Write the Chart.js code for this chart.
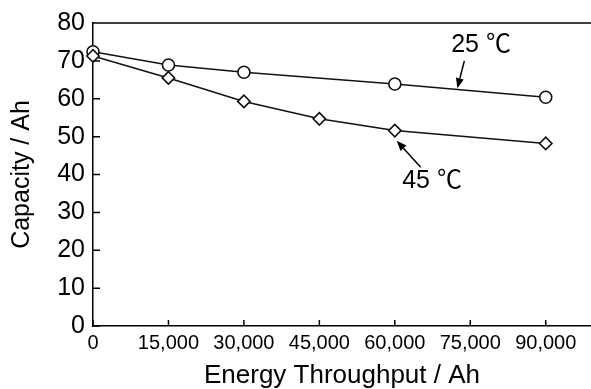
<!DOCTYPE html>
<html>
<head>
<meta charset="utf-8">
<script src="https://cdn.jsdelivr.net/npm/chart.js@4"></script>
<style>
  html, body { margin: 0; padding: 0; background: #fff; }
  #wrap { width: 591px; height: 389px; }
</style>
</head>
<body>
<div id="wrap"><canvas id="capacity_chart"></canvas></div>
<script>
// data
const throughput_25 = [0, 15000, 30000, 60000, 90000];
const capacity_25 = [72.4, 68.9, 67.0, 63.9, 60.4];
const throughput_45 = [0, 15000, 30000, 45000, 60000, 90000];
const capacity_45 = [71.3, 65.5, 59.3, 54.7, 51.6, 48.2];

const x_ticks = [0, 15000, 30000, 45000, 60000, 75000, 90000];
const y_ticks = [0, 10, 20, 30, 40, 50, 60, 70, 80];

// annotation labels and arrows, in data units
const notes = [
  { text: "25 ℃", at: [77140, 74.2], tail: [73820, 70.0], tip: [72430, 62.8] },
  { text: "45 ℃", at: [67400, 38.2], tail: [65150, 41.9], tip: [60380, 48.9] },
];

const FONT = "'Liberation Sans', Arial, 'Noto Sans CJK JP', 'DejaVu Sans', sans-serif";

const to_points = (xs, ys) => xs.map((x, i) => ({ x: x, y: ys[i] }));

// top frame line, inward tick marks, text labels with arrows
const frame_and_notes = {
  id: "frame_and_notes",
  afterDraw(chart) {
    const ctx = chart.ctx;
    const area = chart.chartArea;
    const sx = chart.scales.x;
    const sy = chart.scales.y;

    ctx.save();
    ctx.strokeStyle = "#000";
    ctx.lineWidth = 1.5;
    ctx.beginPath();
    ctx.moveTo(area.left, area.top);
    ctx.lineTo(area.right, area.top);
    for (const t of sx.ticks) {
      const px = sx.getPixelForValue(t.value);
      ctx.moveTo(px, area.bottom);
      ctx.lineTo(px, area.bottom - 6);
    }
    for (const t of sy.ticks) {
      const py = sy.getPixelForValue(t.value);
      ctx.moveTo(area.left, py);
      ctx.lineTo(area.left + 7, py);
    }
    ctx.stroke();

    ctx.fillStyle = "#000";
    ctx.font = "25px " + FONT;
    ctx.textAlign = "center";
    ctx.textBaseline = "middle";
    for (const n of notes) {
      ctx.fillText(n.text, sx.getPixelForValue(n.at[0]), sy.getPixelForValue(n.at[1]));

      const x0 = sx.getPixelForValue(n.tail[0]);
      const y0 = sy.getPixelForValue(n.tail[1]);
      const x1 = sx.getPixelForValue(n.tip[0]);
      const y1 = sy.getPixelForValue(n.tip[1]);
      const ang = Math.atan2(y1 - y0, x1 - x0);
      const head = 10;
      const bx = x1 - head * Math.cos(ang);
      const by = y1 - head * Math.sin(ang);

      ctx.lineWidth = 1.5;
      ctx.beginPath();
      ctx.moveTo(x0, y0);
      ctx.lineTo(bx, by);
      ctx.stroke();

      ctx.beginPath();
      ctx.moveTo(x1, y1);
      ctx.lineTo(bx + 4 * Math.sin(ang), by - 4 * Math.cos(ang));
      ctx.lineTo(bx - 4 * Math.sin(ang), by + 4 * Math.cos(ang));
      ctx.closePath();
      ctx.fill();
    }
    ctx.restore();
  },
};

const canvas = document.getElementById("capacity_chart");

const chart = new Chart(canvas, {
  type: "line",
  data: {
    datasets: [
      {
        label: "45 ℃",
        data: to_points(throughput_45, capacity_45),
        borderColor: "#111",
        borderWidth: 1.5,
        pointStyle: "rectRot",
        pointRadius: 6.2,
        pointBorderWidth: 1.6,
        pointBackgroundColor: "#fff",
        pointBorderColor: "#111",
        tension: 0,
        clip: false,
      },
      {
        label: "25 ℃",
        data: to_points(throughput_25, capacity_25),
        borderColor: "#111",
        borderWidth: 1.5,
        pointStyle: "circle",
        pointRadius: 6,
        pointBorderWidth: 1.6,
        pointBackgroundColor: "#fff",
        pointBorderColor: "#111",
        tension: 0,
        clip: false,
      },
    ],
  },
  options: {
    responsive: true,
    maintainAspectRatio: false,
    animation: false,
    layout: { autoPadding: false, padding: { top: 22, right: 0, bottom: 0, left: 0 } },
    plugins: {
      legend: { display: false },
      tooltip: { enabled: false },
    },
    scales: {
      x: {
        type: "linear",
        min: 0,
        max: 99000,
        afterBuildTicks(scale) {
          scale.ticks = x_ticks.map((v) => ({ value: v }));
        },
        afterFit(scale) {
          scale.height = 63;
        },
        border: { color: "#000", width: 1.5 },
        grid: { display: false, drawOnChartArea: false, drawTicks: false },
        ticks: {
          color: "#000",
          font: { family: FONT, size: 20 },
          padding: 5,
          maxRotation: 0,
          callback: (v) => v.toLocaleString("en-US"),
        },
        title: {
          display: true,
          text: "Energy Throughput / Ah",
          color: "#000",
          font: { family: FONT, size: 26, lineHeight: 1 },
          padding: { top: 0, bottom: 0 },
        },
      },
      y: {
        min: 0,
        max: 80,
        afterBuildTicks(scale) {
          scale.ticks = y_ticks.map((v) => ({ value: v }));
        },
        afterFit(scale) {
          scale.width = 93;
        },
        border: { color: "#000", width: 1.5 },
        grid: { display: false, drawOnChartArea: false, drawTicks: false },
        ticks: {
          color: "#000",
          font: { family: FONT, size: 25 },
          padding: 8,
        },
        title: {
          display: true,
          text: "Capacity / Ah",
          color: "#000",
          font: { family: FONT, size: 25, lineHeight: 1 },
          padding: { top: 10, bottom: 0 },
        },
      },
    },
  },
  plugins: [frame_and_notes],
});
</script>
</body>
</html>
